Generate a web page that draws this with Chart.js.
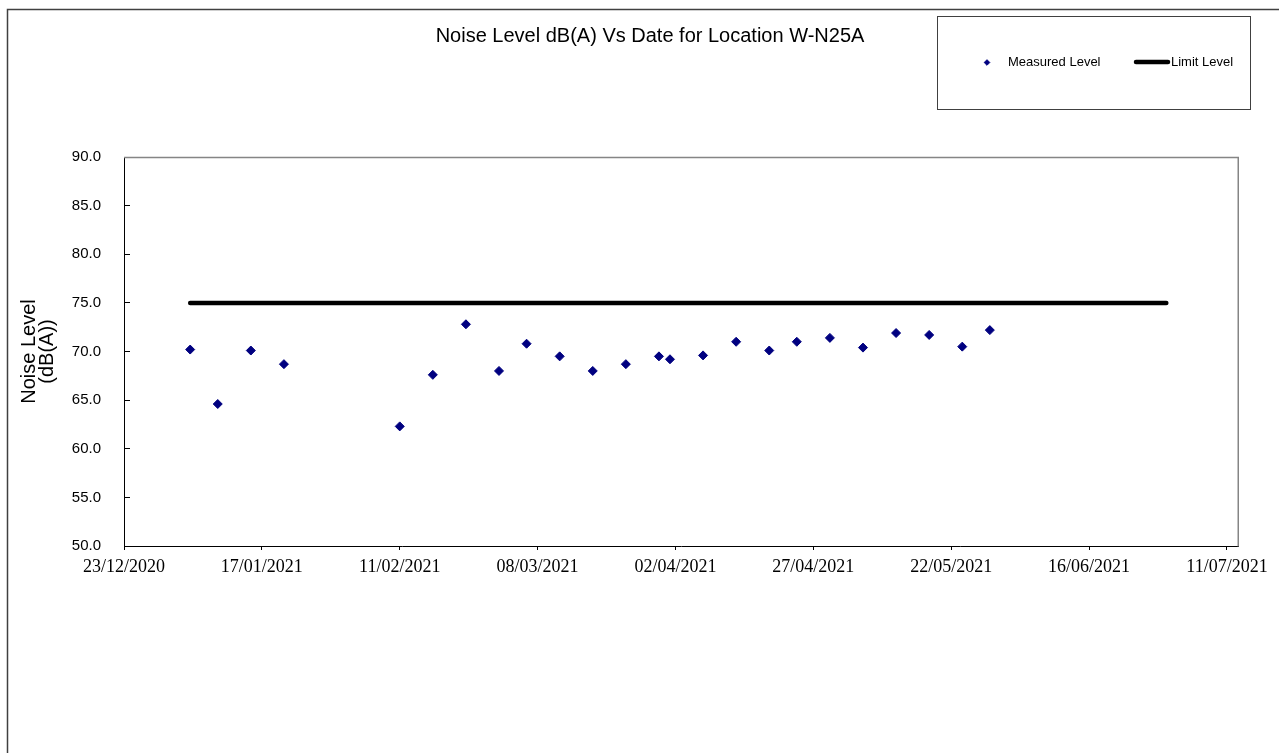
<!DOCTYPE html>
<html>
<head>
<meta charset="utf-8">
<title>Noise Level W-N25A</title>
<style>
  html, body { margin: 0; padding: 0; background: #ffffff; }
  canvas { display: block; }
</style>
<script src="https://cdn.jsdelivr.net/npm/chart.js@4.4.1/dist/chart.umd.min.js"></script>
</head>
<body>
<canvas id="noiseChart" width="1279" height="753"></canvas>
<script>
// ---- chart text ----
const chartTitle = 'Noise Level dB(A) Vs Date for Location W-N25A';
const yAxisTitle = ['Noise Level', '(dB(A))'];
const measuredLabel = 'Measured Level';
const limitLabel = 'Limit Level';

// ---- measured noise levels, dB(A) ----
const measuredDates = [
  '04/01/2021', '09/01/2021', '15/01/2021', '21/01/2021',
  '11/02/2021', '17/02/2021', '23/02/2021', '01/03/2021',
  '06/03/2021', '12/03/2021', '18/03/2021', '24/03/2021',
  '30/03/2021', '01/04/2021', '07/04/2021', '13/04/2021',
  '19/04/2021', '24/04/2021', '30/04/2021', '06/05/2021',
  '12/05/2021', '18/05/2021', '24/05/2021', '29/05/2021'
];
const measuredLevels = [
  70.2, 64.6, 70.1, 68.7,
  62.3, 67.6, 72.8, 68.0,
  70.8, 69.5, 68.0, 68.7,
  69.5, 69.2, 69.6, 71.0,
  70.1, 71.0, 71.4, 70.4,
  71.9, 71.7, 70.5, 72.2
];

// ---- limit level ----
const limitDates = ['04/01/2021', '30/06/2021'];
const limitLevels = [75, 75];

// ---- axes ----
const xTickDates = [
  '23/12/2020', '17/01/2021', '11/02/2021', '08/03/2021', '02/04/2021',
  '27/04/2021', '22/05/2021', '16/06/2021', '11/07/2021'
];
const xAxisEndDate = '13/07/2021';
const yMin = 50;
const yMax = 90;
const yStep = 5;

// Dates are plotted as whole days counted from the first tick date.
const DAY_MS = 86400000;
function parseDate(s) {
  const [d, m, y] = s.split('/').map(Number);
  return Date.UTC(y, m - 1, d);
}
const ORIGIN = parseDate(xTickDates[0]);
function toDay(s) { return Math.round((parseDate(s) - ORIGIN) / DAY_MS); }
function two(n) { return (n < 10 ? '0' : '') + n; }
function fromDay(n) {
  const t = new Date(ORIGIN + n * DAY_MS);
  return two(t.getUTCDate()) + '/' + two(t.getUTCMonth() + 1) + '/' + t.getUTCFullYear();
}

const SANS = '"Liberation Sans", Arial, Helvetica, sans-serif';
const SERIF = '"Liberation Serif", "Times New Roman", serif';

// Title, legend box, outer frame and the grey top/right plot edges.
const decorations = {
  id: 'decorations',
  beforeDraw(chart) {
    const { ctx, width, height } = chart;
    ctx.save();
    ctx.fillStyle = '#ffffff';
    ctx.fillRect(0, 0, width, height);
    ctx.strokeStyle = '#404040';
    ctx.lineWidth = 1.5;
    ctx.beginPath();
    ctx.moveTo(7.5, height + 5);
    ctx.lineTo(7.5, 9.5);
    ctx.lineTo(width + 5, 9.5);
    ctx.stroke();
    ctx.restore();
  },
  afterDraw(chart) {
    const { ctx, chartArea: a } = chart;
    const ds = chart.data.datasets;
    ctx.save();

    // plot area edges
    ctx.strokeStyle = '#858585';
    ctx.lineWidth = 1.5;
    ctx.beginPath();
    ctx.moveTo(a.left, a.top + 0.5);
    ctx.lineTo(a.right + 0.25, a.top + 0.5);
    ctx.lineTo(a.right + 0.25, a.bottom + 0.5);
    ctx.stroke();

    // title
    ctx.fillStyle = '#000000';
    ctx.font = '20px ' + SANS;
    ctx.textAlign = 'center';
    ctx.textBaseline = 'alphabetic';
    ctx.fillText(chartTitle, 650, 42);

    // legend box
    ctx.strokeStyle = '#404040';
    ctx.lineWidth = 1;
    ctx.strokeRect(937.5, 16.5, 313, 93);

    const ly = 62.5;
    ctx.font = '13px ' + SANS;
    ctx.textAlign = 'left';
    ctx.textBaseline = 'middle';

    // measured entry
    ctx.fillStyle = ds[0].pointBackgroundColor;
    ctx.strokeStyle = ds[0].pointBorderColor;
    ctx.lineWidth = 1;
    Chart.helpers.drawPoint(ctx, { pointStyle: ds[0].pointStyle, radius: 2.8, borderWidth: 1, rotation: 0 }, 987, ly);
    ctx.fillStyle = '#000000';
    ctx.fillText(ds[0].label, 1008, ly);

    // limit entry
    ctx.strokeStyle = ds[1].borderColor;
    ctx.lineWidth = ds[1].borderWidth;
    ctx.lineCap = 'round';
    ctx.beginPath();
    ctx.moveTo(1136, ly - 0.5);
    ctx.lineTo(1168, ly - 0.5);
    ctx.stroke();
    ctx.fillText(ds[1].label, 1171, ly);

    ctx.restore();
  }
};

const measuredPoints = measuredDates.map((d, i) => ({ x: toDay(d), y: measuredLevels[i] }));
const limitPoints = limitDates.map((d, i) => ({ x: toDay(d), y: limitLevels[i] }));

new Chart(document.getElementById('noiseChart'), {
  type: 'scatter',
  data: {
    datasets: [
      {
        label: measuredLabel,
        data: measuredPoints,
        showLine: false,
        pointStyle: 'rectRot',
        pointRadius: 4.5,
        pointBorderWidth: 1,
        pointBackgroundColor: '#000080',
        pointBorderColor: '#000080'
      },
      {
        label: limitLabel,
        data: limitPoints,
        showLine: true,
        pointRadius: 0,
        borderColor: '#000000',
        borderWidth: 4.5,
        borderCapStyle: 'round',
        fill: false
      }
    ]
  },
  options: {
    responsive: false,
    animation: false,
    events: [],
    layout: { padding: { left: 10, right: 41, top: 157, bottom: 0 } },
    plugins: {
      legend: { display: false },
      title: { display: false },
      tooltip: { enabled: false }
    },
    scales: {
      x: {
        type: 'linear',
        min: toDay(xTickDates[0]),
        max: toDay(xAxisEndDate),
        afterBuildTicks(scale) {
          scale.ticks = xTickDates.map(d => ({ value: toDay(d) }));
        },
        afterFit(scale) {
          scale.height = 207;
          scale.paddingLeft = 0;
          scale.paddingRight = 0;
        },
        ticks: {
          autoSkip: false,
          maxRotation: 0,
          minRotation: 0,
          padding: 6,
          color: '#000000',
          font: { family: SERIF, size: 18 },
          callback: (v) => fromDay(v)
        },
        grid: {
          display: true,
          drawOnChartArea: false,
          drawTicks: true,
          tickLength: 4,
          tickColor: '#000000',
          tickWidth: 1
        },
        border: { display: true, color: '#000000', width: 1 }
      },
      y: {
        min: yMin,
        max: yMax,
        afterFit(scale) {
          scale.width = 114;
        },
        ticks: {
          stepSize: yStep,
          padding: 23,
          color: '#000000',
          font: { family: SANS, size: 15 },
          callback: (v) => Number(v).toFixed(1)
        },
        // short inward tick marks: only the first few pixels of each grid line are drawn
        grid: {
          display: true,
          drawOnChartArea: true,
          drawTicks: false,
          color: '#000000',
          lineWidth: 1
        },
        border: { display: true, color: '#000000', width: 1, dash: [5, 4000] },
        title: {
          display: true,
          text: yAxisTitle,
          color: '#000000',
          font: { family: SANS, size: 20, lineHeight: 0.9 },
          padding: { top: 10, bottom: 0 }
        }
      }
    }
  },
  plugins: [decorations]
});
</script>
</body>
</html>
